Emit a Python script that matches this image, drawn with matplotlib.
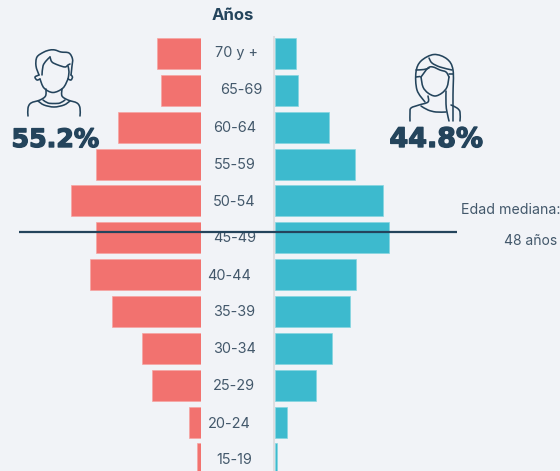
import numpy as np
import matplotlib
matplotlib.use('Agg')
import matplotlib.pyplot as plt
import matplotlib.patheffects as pe
from matplotlib.path import Path
from matplotlib.patches import PathPatch

age_labels = ['70 y +', '65-69', '60-64', '55-59', '50-54', '45-49',
              '40-44', '35-39', '30-34', '25-29', '20-24', '15-19']
men_pct = [2.93, 2.67, 5.57, 7.0, 8.7, 7.0, 7.43, 5.93, 3.97, 3.3, 0.83, 0.3]
women_pct = [1.4, 1.53, 3.63, 5.33, 7.17, 7.57, 5.37, 5.03, 3.77, 2.7, 0.8, 0.1]
men_total = '55.2%'
women_total = '44.8%'
title = 'Años'
median_lines = ['Edad mediana:', '48 años']

W, H = 560, 471
BG = '#F1F3F7'
RED = '#F2726F'
TEAL = '#3DBACE'
DARK = '#24445C'
TXT = '#43586B'
FONT = 'Inter'
PX_PER_PCT = 15.0
ROW = 36.85
Y0 = 53.5
L_EDGE = 201.2
R_EDGE = 275.0

fig = plt.figure(figsize=(W / 100, H / 100), dpi=100, facecolor=BG)
ylim = ((H - Y0) / ROW, -Y0 / ROW)

axL = fig.add_axes([0, 0, L_EDGE / W, 1])
axL.barh(range(len(men_pct)), men_pct, height=31 / ROW, color=RED,
         edgecolor='#F6A5A3', linewidth=0.5)
axL.set_xlim(L_EDGE / PX_PER_PCT, 0)
axL.set_ylim(*ylim)
axL.axis('off')

axR = fig.add_axes([R_EDGE / W, 0, (W - R_EDGE) / W, 1])
axR.barh(range(len(women_pct)), women_pct, height=31 / ROW, color=TEAL,
         edgecolor='#86D5E0', linewidth=0.5)
axR.set_xlim(0, (W - R_EDGE) / PX_PER_PCT)
axR.set_ylim(*ylim)
axR.axis('off')

# overlay in pixel coordinates for annotations and icons
ov = fig.add_axes([0, 0, 1, 1], facecolor='none')
ov.set_xlim(0, W)
ov.set_ylim(H, 0)
ov.axis('off')

ov.plot([274, 274], [36, H], color='#D9DADD', lw=1.2, solid_capstyle='butt')

label_x = [236.5, 241, 234.5, 234.5, 234.5, 234.5, 229, 234, 234, 234, 229, 234]
label_dy = [0, -0.5, 0.5, 0.5, 1, 0.5, 1, 1, 1, 1, 2, 1]
for i, lab in enumerate(age_labels):
    ov.text(label_x[i], Y0 + ROW * i + label_dy[i], lab, ha='center', va='center',
            fontsize=10.4, color=TXT, family=FONT)

ov.text(233, 16, title, ha='center', va='center', fontsize=12, color=DARK,
        family=FONT, weight='bold')

ov.plot([19, 457], [232, 232], color=DARK, lw=1.6, solid_capstyle='butt', zorder=5)
ov.text(461, 210, median_lines[0], ha='left', va='center', fontsize=10.2, color=TXT, family=FONT)
ov.text(531, 241, median_lines[1], ha='center', va='center', fontsize=10, color=TXT, family=FONT)

stroke = [pe.withStroke(linewidth=1.0, foreground=DARK)]
for x, s, fs in [(55.5, men_total, 18.2), (436, women_total, 19.4)]:
    ov.text(x, 140, s, ha='center', va='center', fontsize=fs, color=DARK,
            family='DejaVu Sans', weight='bold', path_effects=stroke)


def smooth(pts):
    p = np.asarray(pts, float)
    verts = [p[0]]
    codes = [Path.MOVETO]
    n = len(p)
    for i in range(n - 1):
        a = p[max(i - 1, 0)]
        b, c = p[i], p[i + 1]
        d = p[min(i + 2, n - 1)]
        verts += [b + (c - a) / 6, c - (d - b) / 6, c]
        codes += [Path.CURVE4] * 3
    return Path(verts, codes)


def stroke_path(pts):
    ov.add_patch(PathPatch(smooth(pts), fill=False, edgecolor=DARK, lw=1.15,
                           capstyle='round', joinstyle='round'))


man_strokes = [
    [(39, 75), (36, 66), (37, 57), (44, 52), (50, 50), (55, 50), (61, 52), (69, 53), (72.5, 59), (72, 66), (71, 75)],
    [(50, 57), (52, 62), (58, 65), (65, 67), (68, 65), (70, 64)],
    [(42, 75), (43, 66), (46, 61), (50, 57)],
    [(39, 75), (35, 77), (37, 80), (40, 79)],
    [(71, 75), (72.5, 77), (71, 80), (68, 79)],
    [(40, 79), (44, 88), (53, 92.5), (63, 88), (68, 79)],
    [(68, 66), (69, 72), (68, 79)],
    [(46, 89), (45.5, 96), (40, 100), (31, 103), (28, 108), (28, 116)],
    [(62, 89), (62, 96), (68, 100), (77, 103), (80, 108), (80, 116)],
    [(38, 101), (44, 105), (54, 107), (64, 105), (70, 101)],
    [(43, 100), (48, 103), (54, 103.5), (60, 103), (65, 100)],
]
woman_strokes = [
    [(425, 102), (417, 90), (416, 72), (421, 61), (434, 54.5), (447, 59), (453, 70), (453, 95), (453, 121)],
    [(421, 77), (423, 87), (428, 93), (435, 96), (442, 93), (447, 87), (449, 77)],
    [(449, 77), (446, 72), (440, 70), (433, 67), (428, 68), (421, 77)],
    [(429, 58), (432, 63), (440, 67), (452, 70)],
    [(416, 70), (424, 69.5), (429, 68)],
    [(416, 77), (420, 76.5)],
    [(449, 74), (453, 74)],
    [(446, 91), (446, 104), (447, 112), (449, 121)],
    [(451, 105), (457, 108), (460, 112), (460, 121)],
    [(428, 96), (428, 102), (419, 105), (411, 108), (410, 113), (410, 121)],
    [(421, 106), (428, 110), (436, 112), (446, 112)],
]
for s in man_strokes + woman_strokes:
    stroke_path(s)

fig.savefig('out.png', dpi=100, facecolor=BG)
